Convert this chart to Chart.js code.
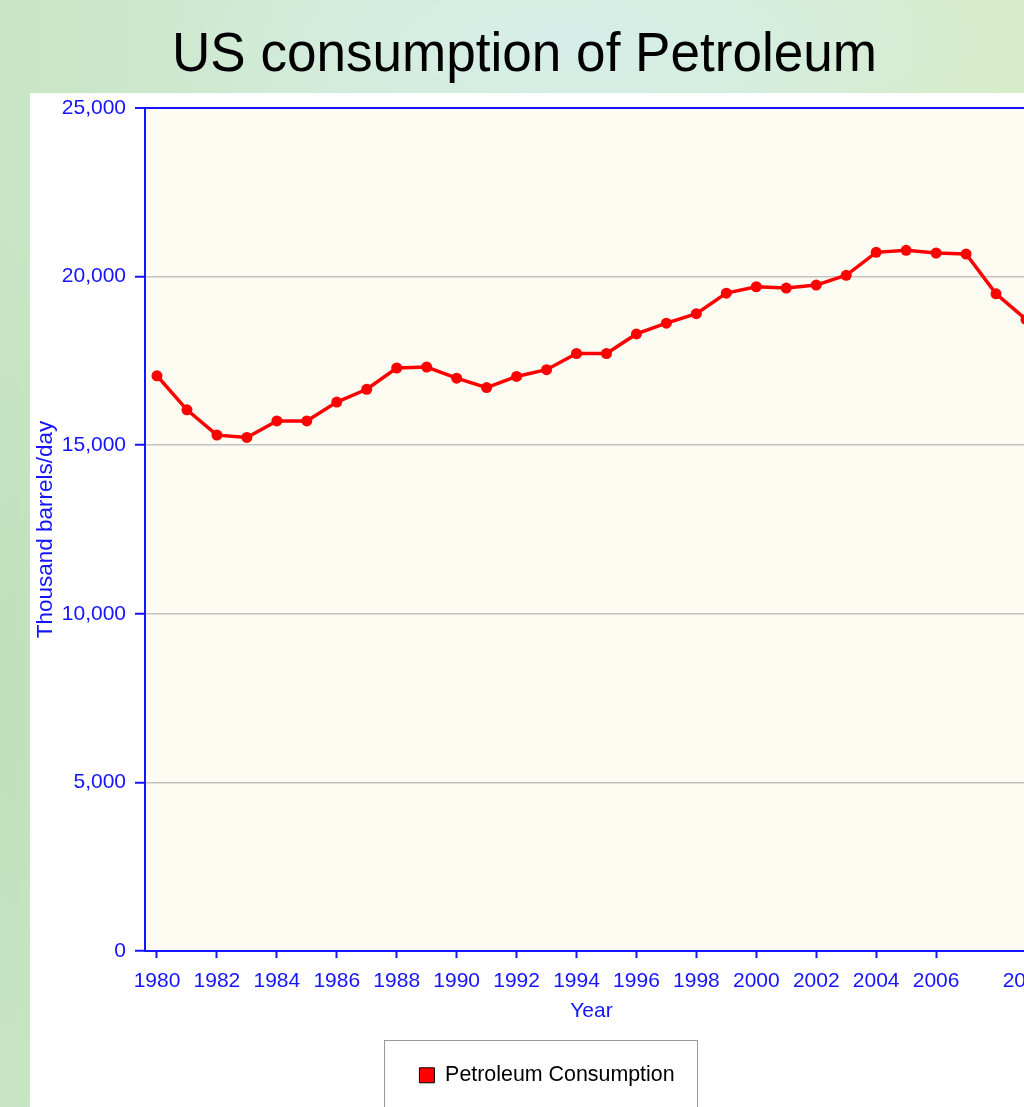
<!DOCTYPE html>
<html>
<head>
<meta charset="utf-8">
<title>US consumption of Petroleum</title>
<script src="https://cdn.jsdelivr.net/npm/chart.js@4.4.1/dist/chart.umd.min.js"></script>
<style>
  html, body { margin: 0; padding: 0; width: 1024px; height: 1107px; overflow: hidden; }
  body {
    position: relative;
    background:
      radial-gradient(ellipse 420px 120px at 560px 40px, rgba(214,238,232,0.95), rgba(214,238,232,0)),
      radial-gradient(ellipse 60px 500px at 10px 700px, rgba(190,224,186,0.9), rgba(190,224,186,0)),
      linear-gradient(90deg, #c8e5c4 0%, #d2ebd6 35%, #d5edde 60%, #d6ecc8 100%);
  }
  h1 {
    position: absolute; left: 0; top: 25px; width: 1049px; margin: 0;
    text-align: center; font: 400 55px/1 "Liberation Sans", Arial, sans-serif; color: #000;
    transform: scaleX(0.965); transform-origin: 524.5px 0;
  }
  #panel { position: absolute; left: 30px; top: 93px; width: 1023px; height: 1030px; background: #fff; }
</style>
</head>
<body>
<h1>US consumption of Petroleum</h1>
<div id="panel"><canvas id="chart" width="1023" height="1030"></canvas></div>
<script>
// data (thousand barrels/day)
const years = [1980, 1981, 1982, 1983, 1984, 1985, 1986, 1987, 1988, 1989,
  1990, 1991, 1992, 1993, 1994, 1995, 1996, 1997, 1998, 1999,
  2000, 2001, 2002, 2003, 2004, 2005, 2006, 2007, 2008, 2009]
const consumption = [17060, 16050, 15300, 15230, 15720, 15720, 16280, 16660, 17290, 17320,
  16990, 16710, 17040, 17240, 17720, 17720, 18300, 18620, 18900, 19510,
  19700, 19660, 19750, 20040, 20720, 20780, 20700, 20670, 19490, 18730]
const yearTicks = [1980, 1982, 1984, 1986, 1988, 1990, 1992, 1994, 1996, 1998, 2000, 2002, 2004, 2006, 2009]
const valueTicks = [0, 5000, 10000, 15000, 20000, 25000]

const blue = "#1414ff"
Chart.defaults.font.family = "'Liberation Sans', Arial, sans-serif"

// cream plot background + boxed legend
const plotDecor = {
  id: "plotDecor",
  beforeDraw(chart) {
    const { ctx, chartArea: a } = chart
    ctx.save()
    ctx.fillStyle = "#fcfcf3"
    ctx.fillRect(a.left, a.top, a.right - a.left, a.bottom - a.top)
    ctx.restore()
  },
  afterDraw(chart) {
    const hb = chart.legend.legendHitBoxes[0]
    if (!hb) return
    const { ctx } = chart
    const cy = hb.top + hb.height / 2
    ctx.save()
    ctx.strokeStyle = "#9a9a9a"
    ctx.lineWidth = 1
    ctx.strokeRect(Math.round(hb.left - 35) + 0.5, Math.round(cy - 35.5) + 0.5, Math.round(hb.width + 58), 71)
    ctx.restore()
  }
}

new Chart(document.getElementById("chart"), {
  type: "line",
  data: {
    datasets: [{
      label: "Petroleum Consumption",
      data: years.map((y, i) => ({ x: y, y: consumption[i] })),
      borderColor: "#ff0000",
      backgroundColor: "#ff0000",
      borderWidth: 3.5,
      pointRadius: 5.5,
      pointBorderWidth: 0,
      pointBackgroundColor: "#ff0000",
      tension: 0,
    }],
  },
  options: {
    responsive: false,
    animation: false,
    layout: { padding: { top: 15, right: 15, left: 26, bottom: 27 } },
    plugins: {
      tooltip: { enabled: false },
      legend: {
        position: "bottom",
        labels: {
          boxWidth: 15,
          boxHeight: 15,
          padding: 10,
          color: "#000",
          font: { size: 21.4 },
          generateLabels: (chart) => chart.data.datasets.map((ds, i) => ({
            text: ds.label,
            fillStyle: "#ff0000",
            strokeStyle: "#000",
            lineWidth: 1,
            hidden: false,
            datasetIndex: i,
          })),
        },
      },
    },
    scales: {
      x: {
        type: "linear",
        min: 1979.6,
        max: 2009.4,
        afterBuildTicks: (s) => { s.ticks = yearTicks.map((v) => ({ value: v })) },
        afterFit: (s) => { s.height = 103.5; s.paddingLeft = 0; s.paddingRight = 0 },
        ticks: { autoSkip: false, maxRotation: 0, color: blue, font: { size: 21 }, padding: 11, callback: (v) => String(v) },
        grid: { drawOnChartArea: false, tickLength: 7, tickColor: blue, tickWidth: 2 },
        border: { color: blue, width: 2 },
        title: { display: true, text: "Year", color: blue, font: { size: 21 }, padding: { top: 0, bottom: 31 } },
      },
      y: {
        min: 0,
        max: 25000,
        afterBuildTicks: (s) => { s.ticks = valueTicks.map((v) => ({ value: v })) },
        afterFit: (s) => { s.width = 89; s.paddingTop = 0; s.paddingBottom = 0 },
        ticks: { color: blue, font: { size: 21 }, padding: 9, callback: (v) => v.toLocaleString("en-US") },
        grid: {
          color: (c) => (c.tick && c.tick.value === 25000 ? blue : "#c4c4c4"),
          lineWidth: (c) => (c.tick && c.tick.value === 25000 ? 2 : 1.5),
          tickLength: 10,
          tickColor: blue,
          tickWidth: 2,
        },
        border: { color: blue, width: 2 },
        title: { display: true, text: "Thousand barrels/day", color: blue, font: { size: 22.5 }, padding: { top: -24, bottom: 0 } },
      },
    },
  },
  plugins: [plotDecor],
})
</script>
</body>
</html>
